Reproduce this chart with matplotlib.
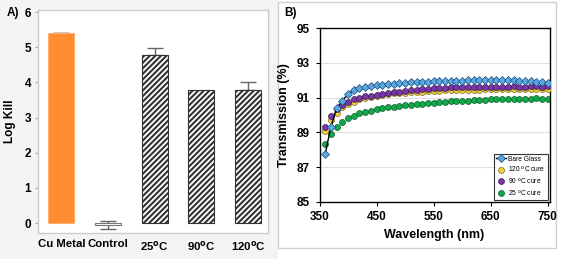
import matplotlib
matplotlib.use("Agg")
import matplotlib.pyplot as plt
from matplotlib.patches import Rectangle
import numpy as np

plt.rcParams['font.family'] = ['Liberation Sans', 'DejaVu Sans']
plt.rcParams['hatch.linewidth'] = 1.5

# ---- Panel A data ----
categories = ["Cu Metal", "Control", r"25$^{\bf o}$C", r"90$^{\bf o}$C", r"120$^{\bf o}$C"]
log_kill = [5.40, -0.06, 4.78, 3.78, 3.78]
log_err = [0.02, 0.11, 0.21, 0.0, 0.24]

# ---- Panel B data ----
wavelength = list(range(360, 760, 10))
bare_glass = [87.75, 89.33, 90.38, 90.83, 91.19, 91.44, 91.54, 91.60, 91.65, 91.72,
              91.75, 91.78, 91.80, 91.84, 91.85, 91.88, 91.92, 91.92, 91.93, 91.95,
              91.96, 91.96, 91.97, 91.98, 91.98, 91.99, 91.99, 92.00, 92.00, 92.00,
              92.01, 92.01, 92.02, 92.00, 91.98, 91.96, 91.94, 91.92, 91.88, 91.87]
cure_120 = [89.08, 89.70, 90.13, 90.44, 90.63, 90.77, 90.90, 91.00, 91.06, 91.12,
            91.16, 91.20, 91.25, 91.27, 91.29, 91.31, 91.33, 91.35, 91.37, 91.40,
            91.41, 91.42, 91.43, 91.44, 91.45, 91.46, 91.47, 91.47, 91.48, 91.48,
            91.49, 91.49, 91.50, 91.50, 91.50, 91.51, 91.51, 91.51, 91.50, 91.52]
cure_90 = [89.33, 89.92, 90.35, 90.58, 90.77, 90.90, 91.00, 91.08, 91.12, 91.15,
           91.20, 91.25, 91.30, 91.33, 91.38, 91.42, 91.45, 91.48, 91.52, 91.56,
           91.57, 91.58, 91.59, 91.60, 91.61, 91.62, 91.62, 91.63, 91.63, 91.63,
           91.64, 91.64, 91.64, 91.65, 91.64, 91.64, 91.65, 91.65, 91.62, 91.66]
cure_25 = [88.33, 88.90, 89.33, 89.62, 89.81, 89.96, 90.10, 90.19, 90.25, 90.33,
           90.38, 90.44, 90.48, 90.52, 90.56, 90.58, 90.63, 90.65, 90.68, 90.71,
           90.73, 90.76, 90.78, 90.80, 90.81, 90.83, 90.85, 90.86, 90.88, 90.90,
           90.90, 90.91, 90.92, 90.93, 90.94, 90.94, 90.95, 90.98, 90.94, 90.94]

W, H = 567, 259
fig = plt.figure(figsize=(W / 100, H / 100), dpi=100, facecolor='white')

# panel backgrounds
fig.patches.append(Rectangle((0, 0), 278 / W, 1, transform=fig.transFigure,
                             facecolor='#f4f4f4', edgecolor='none', zorder=-10))
fig.patches.append(Rectangle((278 / W, 11 / H), (556 - 278) / W, (257 - 11) / H,
                             transform=fig.transFigure, facecolor='white',
                             edgecolor='#d0d0d0', linewidth=1.0, zorder=-9))

# ---- Panel A ----
axA = fig.add_axes([38 / W, (H - 233) / H, 230 / W, 223 / H])
axA.set_facecolor('white')
x = np.arange(len(categories))
colors = ['#ff8c2e', 'white', 'white', 'white', 'white']
edges = ['#ffb070', '#777777', '#333333', '#333333', '#333333']
hatches = [None, None, '//////', '//////', '//////']
for i in range(len(categories)):
    if log_err[i] > 0:
        if i == 1:
            axA.errorbar(x[i], log_kill[i], yerr=log_err[i], fmt='none',
                         ecolor='#666666', elinewidth=1, capsize=6, zorder=1)
        else:
            axA.errorbar(x[i], log_kill[i], yerr=[[0], [log_err[i]]], fmt='none',
                         ecolor='#666666', elinewidth=1, capsize=6, zorder=1)
    axA.bar(x[i], log_kill[i], width=0.56, color=colors[i], edgecolor=edges[i],
            hatch=hatches[i], linewidth=0.8, zorder=2)
axA.set_xlim(-0.5, 4.43)
axA.set_ylim(-0.28, 6.06)
axA.set_yticks(range(0, 7))
axA.set_xticks(x)
axA.set_xticklabels(categories, fontsize=8.2, fontweight='bold')
axA.tick_params(axis='x', length=0, pad=4)
axA.tick_params(axis='y', length=2, color='#aaaaaa', labelsize=8.5, pad=3)
for t in axA.get_yticklabels():
    t.set_fontweight('bold')
for s in axA.spines.values():
    s.set_color('#cccccc')
    s.set_linewidth(1.0)
axA.set_ylabel("Log Kill", fontsize=8.5, fontweight='bold', labelpad=6)
fig.text(7 / W, 1 - 13 / H, "A)", fontsize=8.5, fontweight='bold', va='center')

# ---- Panel B ----
axB = fig.add_axes([319.5 / W, (H - 201.7) / H, 230 / W, 173.4 / H])
axB.set_xlim(350, 753)
axB.set_ylim(85, 95)
axB.set_xticks(range(350, 751, 100))
axB.set_yticks(range(85, 96, 2))
for yv in [87, 89, 91, 93]:
    axB.axhline(yv, color='#e0e0e0', linewidth=0.8, zorder=0)
axB.plot(wavelength, cure_25, 'o', color='#10a84a', mec='#0a5a2a', mew=0.5,
         ms=4.3, label=r"25 $^{\rm o}$C cure", zorder=2)
axB.plot(wavelength, cure_120, 'o', color='#f2cf3c', mec='#7a6a20', mew=0.5,
         ms=4.3, label=r"120 $^{\rm o}$C cure", zorder=3)
axB.plot(wavelength, cure_90, 'o', color='#7a35a8', mec='#3a1a50', mew=0.5,
         ms=4.3, label=r"90 $^{\rm o}$C cure", zorder=4)
axB.plot(wavelength, bare_glass, '-D', color='black', mfc='#5aa8e0', mec='#1a4a80',
         mew=0.5, ms=3.8, lw=1.0, label="Bare Glass", zorder=5)
h, l = axB.get_legend_handles_labels()
order = [3, 1, 2, 0]
leg = axB.legend([h[i] for i in order], [l[i] for i in order], loc='lower right',
                 fontsize=4.8, frameon=True, fancybox=False, borderpad=0.3,
                 handlelength=1.4, handletextpad=0.4, labelspacing=0.25,
                 borderaxespad=0.3)
leg.get_frame().set_edgecolor('black')
leg.get_frame().set_linewidth(0.8)
for s in axB.spines.values():
    s.set_color('black')
    s.set_linewidth(1.0)
axB.tick_params(axis='both', length=3, labelsize=8.5, pad=4)
for t in axB.get_xticklabels() + axB.get_yticklabels():
    t.set_fontweight('bold')
axB.set_xlabel("Wavelength (nm)", fontsize=9, fontweight='bold', labelpad=4)
axB.set_ylabel("Transmission (%)", fontsize=9, fontweight='bold', labelpad=5)
fig.text(284 / W, 1 - 13 / H, "B)", fontsize=8.5, fontweight='bold', va='center')

fig.savefig("out.png", dpi=100, facecolor=fig.get_facecolor())
